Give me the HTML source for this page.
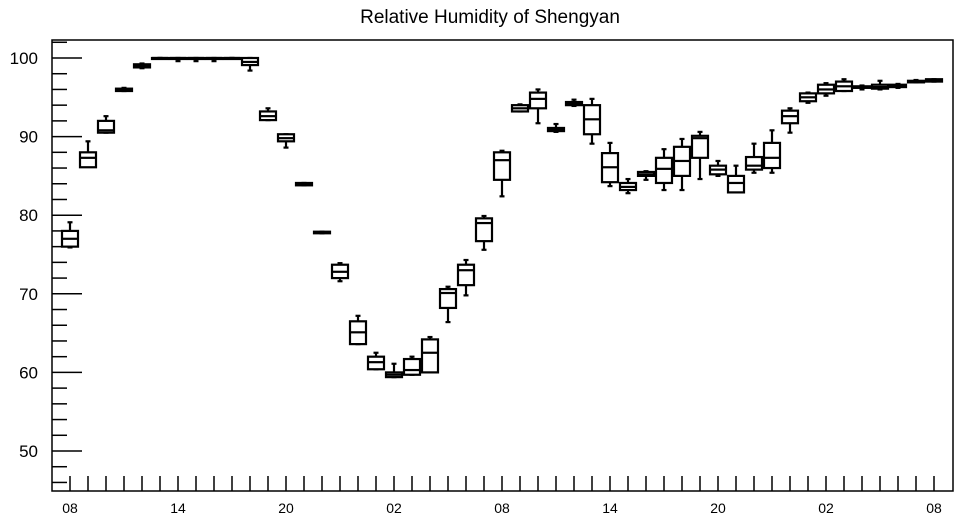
<!DOCTYPE html>
<html><head><meta charset="utf-8"><style>
html,body{margin:0;padding:0;background:#fff;}
svg{display:block;font-family:"Liberation Sans",sans-serif;}
</style></head><body>
<svg id="chart" width="957" height="520" viewBox="0 0 957 520" xmlns="http://www.w3.org/2000/svg">
<text x="490" y="23" text-anchor="middle" font-size="19">Relative Humidity of Shengyan</text>
<rect x="52" y="40" width="901" height="451" fill="none" stroke="#000" stroke-width="1.5"/>
<g id="axes"></g>
<g id="boxes"></g>
</svg>
<script>
const xLabels = ["08","14","20","02","08","14","20","02","08"];
const yTicks = [50,60,70,80,90,100];
const whiskerHigh = [79.1,89.4,92.6,96.2,99.3,100,100,100,100,100,100,93.6,90.3,84.1,77.9,73.9,67.2,62.5,61.1,62.0,64.5,70.9,74.3,79.9,88.2,94.1,96.0,91.6,94.7,94.8,89.2,84.6,85.6,88.4,89.7,90.6,86.9,86.3,89.1,90.8,93.6,95.6,96.8,97.3,96.5,97.1,96.7,97.2,97.3];
const q3 = [78.0,88.0,92.0,96.1,99.2,100,100,100,100,100,100,93.2,90.3,84.1,77.9,73.7,66.5,62.0,60.0,61.7,64.2,70.6,73.7,79.6,88.0,94.0,95.6,91.1,94.4,94.0,87.9,84.1,85.5,87.3,88.7,90.1,86.3,85.0,87.4,89.2,93.3,95.5,96.6,97.0,96.4,96.6,96.6,97.1,97.3];
const median = [77.0,87.3,90.8,96.0,99.0,100,100,100,100,100,99.5,92.6,89.8,84.0,77.8,72.8,65.1,61.3,59.7,60.3,62.5,70.1,73.0,79.0,87.0,93.6,94.8,90.9,94.2,92.2,86.1,83.6,85.2,85.9,86.9,89.8,85.8,84.1,86.3,87.3,92.6,95.0,96.0,96.4,96.3,96.3,96.4,97.0,97.1];
const q1 = [76.0,86.1,90.5,95.8,98.8,100,100,100,100,100,99.1,92.1,89.4,83.8,77.7,72.0,63.6,60.4,59.4,59.7,60.0,68.2,71.1,76.7,84.5,93.2,93.6,90.7,94.0,90.3,84.2,83.2,85.0,84.1,85.0,87.3,85.2,82.9,85.8,86.0,91.7,94.5,95.5,95.8,96.2,96.1,96.3,96.9,97.0];
const whiskerLow = [75.9,86.2,90.5,95.8,98.7,100,99.6,99.6,99.6,100,98.4,92.1,88.6,83.8,77.7,71.6,63.6,60.4,59.4,59.7,60.0,66.4,69.8,75.6,82.4,93.2,91.7,90.6,93.9,89.1,83.7,82.8,84.5,83.2,83.2,84.6,85.0,82.9,85.4,85.4,90.5,94.3,95.2,95.8,96.0,96.0,96.2,96.9,97.0];

const NS="http://www.w3.org/2000/svg";
const x0=70, dx=18, left=52, bottom=491;
function xs(i){return x0+i*dx;}
function ys(v){return 58+(100-v)*7.86;}
function mk(tag,attrs,parent){const e=document.createElementNS(NS,tag);for(const k in attrs)e.setAttribute(k,attrs[k]);parent.appendChild(e);return e;}
const axes=document.getElementById('axes');
// y minor ticks every 2
for(let v=46; v<=102; v+=2){
  const major = v%10===0;
  const t=mk('line',{x1:left,x2:left+(major?30:15),y1:ys(v),y2:ys(v),stroke:'#000','stroke-width':1.5},axes);
  
  
}
yTicks.forEach(v=>{
  const t=mk('text',{x:38,y:ys(v)+6,'text-anchor':'end','font-size':'17'},axes);
  t.textContent=String(v);
  
  
});
for(let i=0;i<median.length;i++){
  const t=mk('line',{x1:xs(i),x2:xs(i),y1:bottom,y2:bottom-15,stroke:'#000','stroke-width':1.5},axes);
  
  
}
xLabels.forEach((s,k)=>{
  const t=mk('text',{x:xs(k*6),y:513,'text-anchor':'middle','font-size':'14'},axes);
  t.textContent=s;
  
  
});
const boxes=document.getElementById('boxes');
const hw=8;
for(let i=0;i<median.length;i++){
  const g=mk('g',{stroke:'#000','stroke-width':2.2,fill:'none'},boxes);
  
  
  const x=xs(i);
  mk('line',{x1:x,x2:x,y1:ys(whiskerHigh[i]),y2:ys(q3[i])},g);
  mk('line',{x1:x,x2:x,y1:ys(q1[i]),y2:ys(whiskerLow[i])},g);
  mk('line',{x1:x-2.5,x2:x+2.5,y1:ys(whiskerHigh[i]),y2:ys(whiskerHigh[i])},g);
  mk('line',{x1:x-2.5,x2:x+2.5,y1:ys(whiskerLow[i]),y2:ys(whiskerLow[i])},g);
  const h=Math.max(ys(q1[i])-ys(q3[i]),1);
  mk('rect',{x:x-hw,y:ys(q3[i]),width:2*hw,height:h,fill:'#fff'},g);
  mk('line',{x1:x-hw,x2:x+hw,y1:ys(median[i]),y2:ys(median[i])},g);
}
</script>
</body></html>
